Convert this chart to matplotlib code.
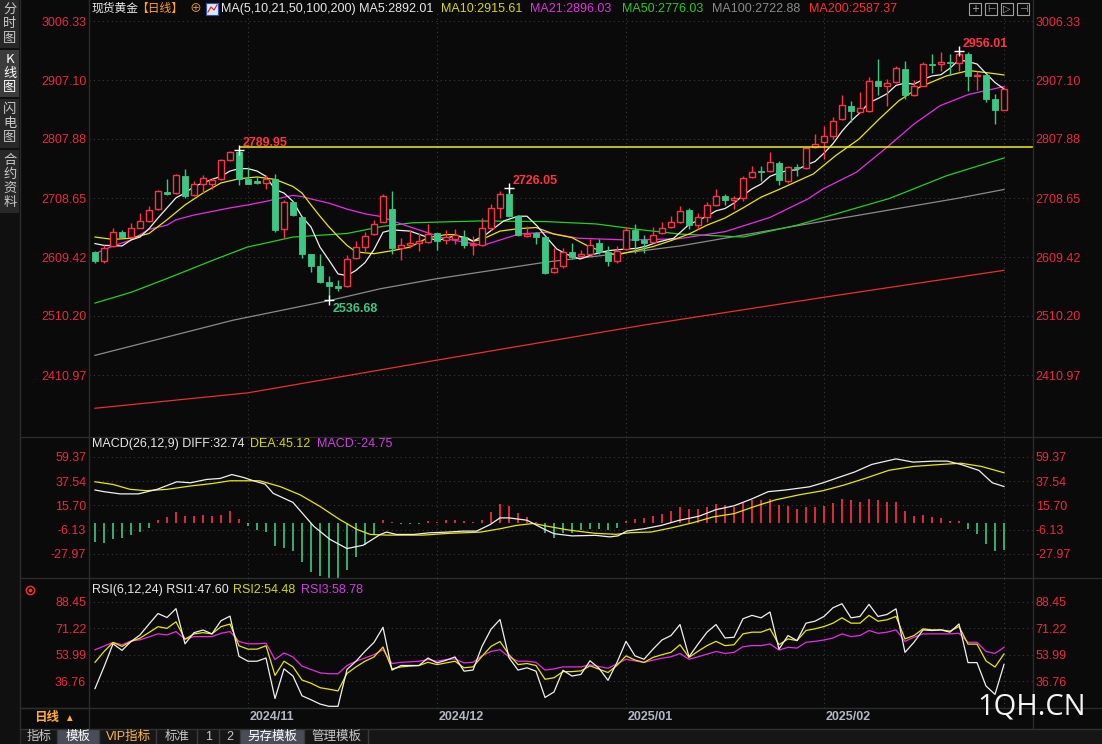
import matplotlib.pyplot as plt
from matplotlib.patches import Rectangle
from matplotlib.lines import Line2D

plt.rcParams['font.family'] = ['Liberation Sans', 'Noto Sans CJK SC', 'DejaVu Sans']

# ---------------- data (daily spot gold) ----------------
opens = [2618, 2602.6, 2627.6, 2650.8, 2643.5, 2658.8, 2670.7, 2690, 2718, 2717,
         2745.5, 2714.3, 2733, 2732.5, 2739.9, 2772.7, 2786.3, 2741, 2737, 2734,
         2739.9, 2656, 2701.3, 2676.4, 2614, 2593.6, 2568, 2560, 2560, 2608.3,
         2626.4, 2647.4, 2668.6, 2689.9, 2623.8, 2629.4, 2633.8, 2635, 2649.5, 2638.3,
         2639.5, 2642.3, 2629.4, 2629.4, 2657.4, 2691, 2715.1, 2678.7, 2644, 2649.5,
         2642.3, 2583.4, 2593.5, 2617, 2611.4, 2614.2, 2632.7, 2617, 2603, 2622.6,
         2655.2, 2638.3, 2635, 2649.5, 2659.4, 2668.6, 2689, 2663, 2677, 2697,
         2711.4, 2705, 2708, 2743.3, 2753.5, 2753.5, 2767.5, 2737.7, 2761.3, 2758.5,
         2793.8, 2802.2, 2813.4, 2841.5, 2862.8, 2853.8, 2855.5, 2905.9, 2896.4, 2903.1,
         2925.5, 2881.8, 2897.5, 2933.4, 2933.4, 2936.8, 2935.6, 2950.8, 2914.3, 2915.5,
         2875.1, 2857.2]
highs = [2620, 2629, 2657.6, 2654.8, 2666, 2683, 2694.5, 2721.7, 2739.9, 2748.4,
         2756.9, 2737, 2746.7, 2742.7, 2773.9, 2787, 2789.95, 2761.4, 2745.5, 2746.7,
         2748.4, 2705.8, 2704, 2678.6, 2615, 2614, 2578.3, 2570.9, 2612.3, 2636,
         2652, 2671.8, 2715, 2719.6, 2640.6, 2655, 2649.5, 2664.7, 2650.5, 2655,
         2656.3, 2655, 2644, 2674.2, 2698.3, 2720.7, 2726.05, 2679.8, 2661.9, 2650.7,
         2645.1, 2623.8, 2623.8, 2633.8, 2621.5, 2639.5, 2639.5, 2627.1, 2627.1, 2659.1,
         2664.7, 2646.2, 2659.1, 2667.5, 2677.6, 2695, 2692, 2684, 2702, 2723.7,
         2715, 2712, 2746, 2763, 2763, 2786.5, 2771.4, 2763, 2765.8, 2793.8,
         2816.2, 2829.1, 2844.3, 2881.8, 2872.3, 2886.3, 2911.5, 2942.4, 2908.7, 2931.2,
         2939.6, 2907.6, 2936.8, 2950.8, 2954.7, 2950.8, 2956.01, 2954.7, 2922.7, 2917.1,
         2883.5, 2894.7]
lows = [2600, 2599, 2626.4, 2640.6, 2642, 2657.6, 2669, 2688.8, 2714, 2716,
        2708.7, 2711.5, 2717, 2724, 2738.7, 2771, 2731, 2731.4, 2731.4, 2724,
        2652, 2640.6, 2678.6, 2608.3, 2584, 2565, 2536.68, 2551.6, 2558.4, 2606.6,
        2616, 2646.3, 2667.5, 2615.3, 2604.7, 2625.4, 2619.8, 2633.8, 2621.5, 2631,
        2631, 2623.8, 2612.6, 2627.1, 2655.2, 2674.2, 2677, 2644, 2642.3, 2631,
        2581, 2582.3, 2590.1, 2606.9, 2608.6, 2612.5, 2614.2, 2594.6, 2599.1, 2621.5,
        2615.9, 2615.9, 2632.7, 2647.9, 2657.4, 2666, 2656, 2657, 2668, 2695,
        2697, 2690, 2703, 2741.7, 2737.7, 2751.8, 2730.5, 2733.8, 2745, 2757.4,
        2792.1, 2774.2, 2807.8, 2840.3, 2835.8, 2852.7, 2853.8, 2881.8, 2863.9, 2902,
        2875.1, 2879.6, 2896.4, 2918.8, 2922.7, 2915.5, 2922.7, 2889.1, 2890.8, 2869.5,
        2833, 2857.2]
closes = [2602.6, 2625.3, 2652, 2643.5, 2657.6, 2670, 2688.8, 2720, 2715, 2746.7,
          2711.5, 2732.5, 2742.7, 2738.7, 2772.2, 2785.2, 2741, 2732.5, 2734, 2741,
          2654.8, 2701.9, 2680, 2615.1, 2593.6, 2566.9, 2560, 2557.3, 2606.6, 2626.4,
          2645.2, 2664.4, 2711.2, 2623.8, 2629.4, 2632.7, 2636.6, 2647.9, 2636.6, 2642.3,
          2646.2, 2629.4, 2631, 2657.4, 2691, 2715.1, 2678.7, 2646.2, 2647.9, 2642.3,
          2582.3, 2590.1, 2618.1, 2608.6, 2614.2, 2629.4, 2618.1, 2603, 2619.8, 2655.2,
          2638.3, 2633.8, 2646.2, 2657.4, 2668.6, 2687.1, 2663, 2677, 2697, 2711.4,
          2705, 2708, 2741.7, 2752.9, 2751.7, 2768.6, 2739.4, 2760.2, 2758.5, 2792.1,
          2799.4, 2812.3, 2838.7, 2865, 2855.5, 2859.4, 2905.9, 2896.4, 2901.4, 2926.7,
          2881.8, 2896.4, 2934, 2932.3, 2936.8, 2935.6, 2950.8, 2914.3, 2915.5, 2875.1,
          2857.2, 2891.9]

ma5_i = [0, 1, 3, 4, 5, 6, 7, 8, 9, 10, 11, 12, 13, 14, 15, 16, 17, 18, 19, 20,
         21, 22, 23, 24, 25, 26, 27, 28, 29, 30, 31, 32, 33, 35, 36.5, 38, 40, 41.3, 42, 43.5,
         45.4, 47, 48, 49.1, 50.2, 51.3, 52.4, 53.9, 55.4, 57, 58.3, 60.2, 61.3, 62.4, 64.3,
         66, 67, 68, 69, 70, 71, 72, 73, 74, 75, 76, 77, 78, 79, 80, 81, 82, 83, 84, 85,
         86, 87, 88, 89, 90, 91, 92, 93, 94, 95, 96, 97, 98, 99, 100, 101]
ma5_v = [2632, 2629, 2628, 2638, 2643, 2657, 2675, 2692, 2709, 2717, 2728, 2734, 2740, 2745,
         2754, 2758, 2758, 2754, 2745, 2723, 2717, 2703, 2677, 2660, 2626, 2604, 2581, 2578,
         2587, 2600, 2622, 2651, 2655, 2653, 2645, 2637, 2645, 2642, 2636, 2648, 2670, 2678,
         2678, 2662, 2642, 2623, 2614, 2606, 2614, 2620, 2622, 2624, 2628, 2634, 2641,
         2664, 2671, 2678, 2687, 2691, 2700, 2713, 2724, 2732, 2745, 2751, 2755, 2756, 2764,
         2770, 2784, 2800, 2821, 2838, 2852, 2869, 2876, 2884, 2898, 2902, 2900, 2908, 2914,
         2916, 2927, 2941, 2938, 2934, 2918, 2903, 2892]
ma10_i = [0, 2, 4, 6, 8, 10, 12, 14, 16, 18, 20, 22, 23, 24, 25, 26, 27, 28, 29, 31,
          33, 35, 37, 39, 40, 42, 43, 45, 47, 49, 51, 53, 55, 57, 58, 60, 62, 64, 66, 68,
          70, 72, 74, 76, 79.8, 82.3, 84.9, 87.1, 89.3, 91.6, 94.6, 97.1, 99.3, 101]
ma10_v = [2643, 2639, 2641, 2649, 2672, 2697, 2717, 2734, 2741, 2744, 2740, 2728, 2717, 2697,
          2678, 2660, 2644, 2629, 2618, 2615, 2620, 2626, 2642, 2647, 2647, 2636, 2639, 2653,
          2657, 2659, 2648, 2642, 2626, 2616, 2613, 2620, 2627, 2637, 2648, 2663, 2675, 2692,
          2710, 2723, 2749, 2780, 2808, 2841, 2872, 2895, 2914, 2923, 2919, 2915.6]
ma21_i = [0, 2, 4, 6, 8, 9, 11, 13, 15, 17, 19, 21, 22, 23, 24, 26, 28, 30, 31.6, 34.6,
          39, 43.1, 47.1, 50, 53.7, 59.3, 64.8, 70, 75, 79.2, 80.9, 84.6, 88, 91, 93.9, 97.1, 101]
ma21_v = [2615, 2628, 2638, 2656, 2663, 2672, 2680, 2686, 2692, 2697, 2703, 2710, 2713, 2711,
          2707, 2700, 2690, 2682, 2678, 2662, 2640, 2629, 2648, 2651, 2641, 2638, 2640, 2652,
          2676, 2707, 2724, 2752, 2794, 2833, 2864, 2883, 2896]
ma50_i = [0, 4, 8.3, 13.1, 16.9, 22, 28, 32, 35.3, 42.7, 50.1, 55.7, 60.2, 65, 72, 78, 88.3, 94.6, 101]
ma50_v = [2532, 2550, 2575, 2604, 2626, 2643, 2649, 2661, 2667, 2670, 2669, 2665, 2656, 2648,
          2643, 2663, 2708, 2746, 2776]
ma100_i = [0, 15.3, 26, 31.7, 37.6, 50.2, 59.8, 65, 78, 95.8, 101]
ma100_v = [2444, 2503, 2536, 2556, 2572, 2601, 2618, 2628, 2662, 2708, 2723]
ma200_i = [0, 17, 38, 61, 82, 101]
ma200_v = [2355, 2381, 2436, 2495, 2544, 2587]

macd_bar = [-17.2, -18.4, -14.8, -13.9, -11.3, -8.3, -4.4, 3, 5, 9.5,
            6.5, 6.5, 7.4, 6.5, 7.4, 10.4, 3.8, -2.4, -6.5, -8.3,
            -20.7, -22.2, -25.2, -34.9, -43.8, -48, -50.3, -50.3, -42, -31,
            -20, -10.4, 3, 0.4, -0.8, -0.8, -0.8, 1.5, 0.5, 2.4,
            3, 1.5, 1, 3, 9.5, 16.8, 15.3, 8.9, 5, 1.2,
            -8.9, -13.3, -8.9, -8.9, -6.8, -5.9, -5.9, -6.8, -4.7, 2,
            3.5, 4.4, 6.5, 8, 10.9, 13.9, 12.4, 12.4, 13.9, 16.8,
            15.9, 13.9, 18.3, 20.4, 20.4, 21.2, 15.9, 15.3, 12.4, 14.5,
            14.5, 15.3, 18.3, 21.2, 20.4, 18.9, 21.2, 20.4, 18.9, 18.9,
            10.9, 6.5, 7.1, 5, 4.4, 2, 2, -5.3, -9.7, -18.6,
            -25.4, -24.75]
diff_i = [0, 1, 2.8, 4.8, 6.9, 9.1, 10.6, 12.4, 13.9, 15.2, 16.5, 17.6, 18.9, 19.8, 22,
          24.3, 26.1, 28, 29.8, 31.7, 32.4, 33.5, 35.4, 37.2, 39.1, 40.9, 42.4, 43.9, 45,
          46, 48, 50, 51, 53, 55.6, 57.2, 58.1, 59.1, 61, 62.9, 64.8, 67.1, 69, 71, 72.9,
          74.8, 76.7, 79.4, 80.9, 82.8, 84.4, 86.3, 89, 90.9, 93.2, 94.7, 96.2, 98.2, 99.7, 101]
diff_v = [29.6, 28.1, 26.1, 26.1, 30.2, 37, 36.1, 39.1, 40, 43.5, 40.9, 37.9, 34.9, 26.6, 18.4,
          -3, -14.8, -23.1, -20.1, -10.4, -8.3, -10.4, -10.4, -8.9, -8.3, -7.4, -7.4, -1.5, 4.5,
          4.5, 2.4, -6, -9.7, -11.7, -11.2, -12.6, -11.7, -7.3, -5.3, -2.3, 2.1, 6, 11.9, 15.4,
          21.3, 28.1, 29.6, 32.5, 36.1, 41.4, 45.8, 52.6, 57.6, 54.7, 55.6, 55.6, 52.6, 47.3,
          36.1, 32.74]
dea_i = [0, 2, 3.9, 5.7, 8, 10.6, 13.1, 15, 18.3, 20.6, 22.8, 25, 27.2, 29.1, 30.6, 32.4,
         36.5, 39.1, 42.8, 45, 46.8, 48.7, 50.6, 52.6, 55.6, 57.9, 59.5, 61.8, 64.1, 66.4,
         68.7, 71, 73.3, 75.6, 78.2, 80.9, 83.2, 85.5, 88.2, 90.9, 94, 96.2, 98.5, 101]
dea_v = [37, 34.6, 30.2, 29, 30.2, 33.2, 35.5, 37.9, 37.9, 32.6, 25.2, 14.8, 3, -5.9, -10.4,
         -11, -11, -9.5, -8.3, -5.3, -2.3, -0.5, -3.5, -6.4, -9.4, -10.3, -8.8, -8.2, -4.4,
         0.1, 5.4, 8.3, 14.8, 20.7, 25.2, 29, 34, 39.9, 47.3, 50.8, 52.6, 53.7, 50.8, 45.12]

rsi1 = [31.8, 46, 61.1, 56.8, 62.6, 66.9, 74, 80.9, 78.3, 84.1,
        61.1, 68.4, 70.1, 67.6, 76.2, 79.2, 52.9, 49.7, 49.7, 51.8,
        25.3, 44.7, 40, 27.1, 24.5, 21.7, 20.2, 20.2, 44.3, 49.7,
        56.2, 62, 71.9, 43.9, 46.9, 46.9, 46.9, 51.8, 48.6, 50.3,
        52.5, 43.2, 43.9, 59.4, 70.6, 77, 52, 43.9, 45.4, 43.2,
        26, 29.6, 43.8, 40, 41.1, 50, 45.1, 37.2, 48.9, 62.7,
        53.2, 51, 57.6, 63.6, 66.5, 73.7, 52.6, 60.9, 68.7, 73.7,
        64.9, 65.4, 77.5, 79.7, 78.1, 81.9, 57.6, 66.5, 63.2, 74.6,
        75.9, 79, 84.7, 87.3, 78.1, 79, 86.9, 79, 80.3, 84,
        55.5, 62.1, 70.2, 69.8, 70.2, 68.7, 74.1, 48.8, 48.8, 33.5,
        28, 47.6]
rsi2 = [49, 56, 62, 59.4, 62.6, 64.8, 68.5, 72.3, 71.2, 75.5,
        64.1, 67.6, 68.4, 67.6, 72.3, 74, 59.8, 57.6, 57.6, 59.8,
        40.4, 49.7, 46, 37.4, 35.3, 32.4, 31.4, 30.3, 41.7, 46,
        49.7, 52.5, 59, 44.7, 46, 46.5, 46.9, 49, 47.5, 48.6,
        49.7, 45.4, 46, 52.9, 59.4, 62.6, 54, 47.5, 48.2, 46.9,
        37.9, 38.9, 42.9, 42.9, 43.4, 46.7, 44.5, 42.3, 47, 53.2,
        50.5, 48.9, 52.2, 54, 55.5, 60.5, 52.2, 56.2, 59.9, 62.7,
        59.9, 60.5, 67.6, 68.7, 68.7, 70.9, 60.5, 64.3, 63.2, 69.8,
        70.9, 72.4, 74.6, 78.1, 74.6, 74.6, 79.7, 75.9, 76.8, 79,
        64.3, 66.5, 70.9, 70.2, 70.2, 69.4, 72.4, 60.9, 60.9, 49.9,
        45.9, 54.48]
rsi3 = [57.2, 59.6, 62, 60.5, 63, 63.7, 65.6, 67.6, 66.9, 69.1,
        64.1, 65.8, 65.8, 65.8, 68, 69.1, 62.6, 61.1, 61.1, 61.5,
        50.8, 55.1, 52.5, 46.5, 44.3, 42.1, 41.5, 41.5, 46.9, 49.7,
        51.8, 54, 57.2, 48.2, 49, 49.3, 49.7, 50.8, 49.7, 50.8,
        51.2, 48.6, 49, 53.3, 56.1, 57.2, 52.5, 49.7, 49.7, 49,
        43.9, 44.7, 46, 46, 46, 47.4, 46.2, 45.1, 48, 51,
        49.9, 48.9, 50.4, 51.7, 52.6, 54.8, 51, 52.6, 54.3, 56.1,
        54.8, 55.5, 59.2, 59.9, 59.9, 61, 57, 58.8, 58.3, 62.1,
        62.7, 63.6, 64.9, 67.6, 65.8, 66.5, 69.8, 68, 68.7, 70.2,
        62.7, 65.4, 67.6, 67.6, 67.6, 67.6, 68, 62.1, 62.1, 56.1,
        54.8, 58.78]

price_ticks = [3006.33, 2907.10, 2807.88, 2708.65, 2609.42, 2510.20, 2410.97]
macd_ticks = [59.37, 37.54, 15.70, -6.13, -27.97]
rsi_ticks = [88.45, 71.22, 53.99, 36.76]
month_idx = [17, 38, 59, 81, 101]
month_labels = ['2024/11', '2024/12', '2025/01', '2025/02']
hi_line = 2794

# ---------------- style ----------------
W, H = 1102, 744
BG = '#0a0a0a'
UP = '#ff3346'
DN = '#3cc884'
AX_RED = '#ea2a40'
GRID = '#3a3a3a'
XL, XR = (89 - 95) / 9, (1033 - 95) / 9

fig = plt.figure(figsize=(W / 100, H / 100), dpi=100)
fig.patch.set_facecolor(BG)


def box(x0, y0, x1, y1):
    return [x0 / W, 1 - y1 / H, (x1 - x0) / W, (y1 - y0) / H]


def ftext(x, y, s, **kw):
    kw.setdefault('va', 'center')
    kw.setdefault('ha', 'left')
    kw.setdefault('fontsize', 9)
    fig.text(x / W, 1 - y / H, s, **kw)


def frect(x0, y0, x1, y1, fc, ec='none', lw=0.0):
    fig.add_artist(Rectangle((x0 / W, 1 - y1 / H), (x1 - x0) / W, (y1 - y0) / H,
                             transform=fig.transFigure, facecolor=fc, edgecolor=ec, lw=lw))


def fline(x0, y0, x1, y1, c='#2c2c2c', lw=1.0):
    fig.add_artist(Line2D([x0 / W, x1 / W], [1 - y0 / H, 1 - y1 / H],
                          transform=fig.transFigure, color=c, lw=lw))


def panel(y0, y1, ylo, yhi, ticks):
    ax = fig.add_axes(box(89, y0, 1033, y1))
    ax.set_facecolor('none')
    ax.set_xlim(XL, XR)
    ax.set_ylim(ylo, yhi)
    for s in ax.spines.values():
        s.set_visible(False)
    ax.set_xticks([])
    ax.set_yticks(ticks)
    ax.set_yticklabels(['%.2f' % t for t in ticks])
    ax.tick_params(axis='y', length=0, labelcolor=AX_RED, labelsize=9,
                   labelleft=True, labelright=True, pad=2)
    for t in ticks:
        ax.axhline(t, color=GRID, lw=0.8, ls=(0, (1, 3)), zorder=0)
    for m in month_idx:
        ax.axvline(m, color=GRID, lw=0.8, ls=(0, (1, 3)), zorder=0)
    return ax


# ---------------- main price panel ----------------
ax = panel(12, 437, 3006.33 - 416 * 1.6818, 3006.33 + 9 * 1.6818, price_ticks)

for i in range(len(closes)):
    o, h, l, c = opens[i], highs[i], lows[i], closes[i]
    lo_b, hi_b = min(o, c), max(o, c)
    col = UP if c >= o else DN
    ax.vlines(i, l, lo_b, color=col, lw=1, zorder=3)
    ax.vlines(i, hi_b, h, color=col, lw=1, zorder=3)
    ht = max(hi_b - lo_b, 0.8)
    if c >= o:
        ax.bar(i, ht, bottom=lo_b, width=0.62, facecolor=BG, edgecolor=UP, lw=1, zorder=4)
    else:
        ax.bar(i, ht, bottom=lo_b, width=0.7, facecolor=DN, edgecolor=DN, lw=0.6, zorder=4)

ax.plot(ma200_i, ma200_v, color='#e8302c', lw=0.9, zorder=2)
ax.plot(ma100_i, ma100_v, color='#8a8a8a', lw=0.9, zorder=2)
ax.plot(ma50_i, ma50_v, color='#22d022', lw=0.9, zorder=2)
ax.plot(ma21_i, ma21_v, color='#e82ce8', lw=0.9, zorder=2)
ax.plot(ma10_i, ma10_v, color='#e8e800', lw=0.9, zorder=2)
ax.plot(ma5_i, ma5_v, color='#f0f0f0', lw=0.9, zorder=2)
ax.hlines(hi_line, 16, XR, color='#f0f000', lw=1.1, zorder=5)

for xi, yv, lbl, ty, col in [(16, 2789.95, '2789.95', 2801, UP), (46, 2726.05, '2726.05', 2737, UP),
                             (96, 2956.01, '2956.01', 2967.6, UP), (26, 2536.68, '2536.68', 2522, DN)]:
    ax.plot(xi, yv, marker='+', color='white', ms=7, mew=1, zorder=6)
    ax.text(xi + 0.45, ty, lbl, color=col, fontsize=9, fontweight='bold', va='center', zorder=6)

# ---------------- MACD panel ----------------
axm = panel(437, 578, -49.6, 77.3, macd_ticks)
for i, v in enumerate(macd_bar):
    axm.vlines(i, 0, v, color=UP if v >= 0 else DN, lw=1.2, zorder=2)
axm.plot(dea_i, dea_v, color='#e8e800', lw=0.9, zorder=3)
axm.plot(diff_i, diff_v, color='#f0f0f0', lw=0.9, zorder=3)

# ---------------- RSI panel ----------------
axr = panel(578, 708, 19.1, 104.15, rsi_ticks)
xs = list(range(len(rsi1)))
axr.plot(xs, rsi3, color='#e82ce8', lw=0.9)
axr.plot(xs, rsi2, color='#e8e800', lw=0.9)
axr.plot(xs, rsi1, color='#f0f0f0', lw=0.9)

# ---------------- frame lines ----------------
for yy in (437, 578, 708):
    fline(20, yy, W, yy)
fline(89, 0, 89, 728)
fline(1033, 0, 1033, 728)
fline(20, 0, 20, H)

# ---------------- header ----------------
ftext(92, 9, '现货黄金', color='#e8e8e8', fontsize=8.5)
ftext(136, 9, '【日线】', color='#ffa030', fontsize=8.5)
ftext(189, 9, '⊕', color='#ffa030', fontsize=8.5)
frect(206, 3, 218, 15, '#dfe6f5', '#3050c0', 0.8)
fig.add_artist(Line2D([208 / W, 211 / W, 214 / W, 217 / W], [1 - 12 / H, 1 - 7 / H, 1 - 10 / H, 1 - 5 / H],
                      transform=fig.transFigure, color='#e02020', lw=0.8))
ftext(221, 9, 'MA(5,10,21,50,100,200) MA5:2892.01', color='#e8e8e8')
ftext(441, 9, 'MA10:2915.61', color='#d8d800')
ftext(530, 9, 'MA21:2896.03', color='#e030e0')
ftext(622, 9, 'MA50:2776.03', color='#28c828')
ftext(712, 9, 'MA100:2722.88', color='#8c8c8c')
ftext(809, 9, 'MA200:2587.37', color='#ff3030')
for k, g in enumerate(['+', '⊢', '▷', '⊣']):
    x0 = 969 + 16 * k
    frect(x0, 3, x0 + 12, 15, 'none', '#a0a0a0', 0.8)
    ftext(x0 + 6, 9, g, color='#b0b0b0', fontsize=7, ha='center', family='DejaVu Sans')

# ---------------- panel labels ----------------
ftext(92, 444, 'MACD(26,12,9) DIFF:32.74', color='#e8e8e8')
ftext(250, 444, 'DEA:45.12', color='#d8d800')
ftext(317, 444, 'MACD:-24.75', color='#d040e0')
ftext(92, 590, 'RSI(6,12,24) RSI1:47.60', color='#e8e8e8')
ftext(233, 590, 'RSI2:54.48', color='#d8d800')
ftext(301, 590, 'RSI3:58.78', color='#d040e0')
fig.add_artist(Line2D([30 / W], [1 - 590 / H], transform=fig.transFigure, marker='o', ms=6,
                      mfc='none', mec='#ff3030', mew=1))
fig.add_artist(Line2D([30 / W], [1 - 590 / H], transform=fig.transFigure, marker='o', ms=1.5,
                      mfc='#ff3030', mec='#ff3030'))

# ---------------- left side bar ----------------
frect(0, 0, 20, H, '#101010')
for (y0, y1, chars, fc, tc) in [(0, 48, '分时图', '#282828', '#c8c8c8'),
                                (50, 97, 'K线图', '#3c3c3c', '#ffffff'),
                                (99, 148, '闪电图', '#282828', '#c8c8c8'),
                                (150, 213, '合约资料', '#282828', '#c8c8c8')]:
    frect(0, y0, 19, y1, fc)
    step = 14.3
    top = y0 + (y1 - y0 - step * len(chars)) / 2
    for k, ch in enumerate(chars):
        ftext(10, top + step * (k + 0.5), ch, color=tc, ha='center', fontsize=9.5,
              family=['Noto Sans CJK SC'])

# ---------------- date row ----------------
fline(20, 708, 89, 708)
ftext(34, 718, '日线', color='#ffb030', fontweight='bold')
ftext(64, 718, '▲', color='#ffb030', fontsize=7)
for m, lbl in zip(month_idx, month_labels):
    x = 95 + 9 * m
    ftext(x + 2, 717, lbl, color='#b4b8c4', fontweight='bold')

# ---------------- bottom tab bar ----------------
frect(20, 729, W, H, '#161616')
fline(20, 729, W, 729, '#303030')
tabs = [(21, 57, '指标', None, '#c8c8c8'), (58, 99, '模板', '#4a4d57', '#ffffff'),
        (100, 156, 'VIP指标', None, '#ffb84a'), (157, 197, '标准', None, '#c8c8c8'),
        (198, 219, '1', None, '#c8c8c8'), (220, 240, '2', None, '#c8c8c8'),
        (241, 304, '另存模板', '#4a4d57', '#ffffff'), (305, 368, '管理模板', None, '#c8c8c8')]
for x0, x1, s, fc, tc in tabs:
    if fc:
        frect(x0, 730, x1, H, fc)
    fline(x1, 730, x1, H, '#3a3a3a')
    ftext((x0 + x1) / 2, 737, s, color=tc, ha='center', fontsize=9)

# ---------------- watermark ----------------
ftext(1032, 707, '1QH.CN', color='#f4f4f4', ha='center', fontsize=21, family='Open Sans')

fig.savefig('out.png', dpi=100, facecolor=BG)
